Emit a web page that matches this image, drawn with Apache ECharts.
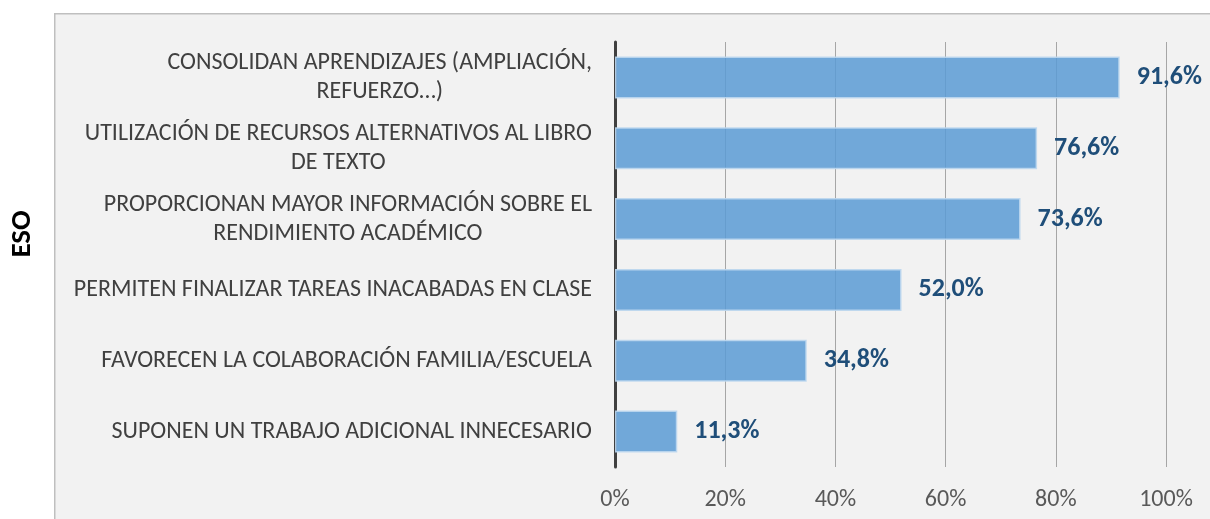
<!DOCTYPE html>
<html>
<head>
<meta charset="utf-8">
<script src="https://cdn.jsdelivr.net/npm/echarts@6/dist/echarts.min.js"></script>
<style>
  html, body { margin: 0; padding: 0; background: #fff; }
  #chart { width: 1210px; height: 519px; }
</style>
</head>
<body>
<div id="chart"></div>
<script>
// categorias (de arriba abajo)
const categories = [
  'CONSOLIDAN APRENDIZAJES (AMPLIACIÓN,\nREFUERZO…)',
  'UTILIZACIÓN DE RECURSOS ALTERNATIVOS AL LIBRO\nDE TEXTO',
  'PROPORCIONAN MAYOR INFORMACIÓN SOBRE EL\nRENDIMIENTO ACADÉMICO',
  'PERMITEN FINALIZAR TAREAS INACABADAS EN CLASE',
  'FAVORECEN LA COLABORACIÓN FAMILIA/ESCUELA',
  'SUPONEN UN TRABAJO ADICIONAL INNECESARIO'
]
const values = [91.6, 76.6, 73.6, 52.0, 34.8, 11.3]
const axisTitle = 'ESO'

const FONT = 'Carlito, "Liberation Sans Narrow", "Open Sans", sans-serif'

const chart = echarts.init(document.getElementById('chart'))
const option = {
  animation: false,
  backgroundColor: '#ffffff',
  graphic: [
    { // panel gris de fondo
      type: 'rect',
      left: 54,
      top: 13,
      z: -10,
      shape: { width: 1170, height: 520 },
      style: { fill: '#f2f2f2', stroke: '#bfbfbf', lineWidth: 1.5 }
    },
    { // titulo del eje vertical
      type: 'text',
      x: 23,
      y: 234,
      rotation: Math.PI / 2,
      style: {
        text: axisTitle,
        fill: '#000',
        font: 'bold 29px ' + FONT,
        align: 'center',
        verticalAlign: 'middle'
      }
    }
  ],
  grid: { left: 615, right: 44, top: 42, bottom: 52 },
  xAxis: {
    type: 'value',
    min: 0,
    max: 100,
    interval: 20,
    axisLine: { show: false },
    axisTick: { show: false },
    axisLabel: {
      formatter: '{value}%',
      color: '#595959',
      fontFamily: FONT,
      fontSize: 24,
      margin: 21
    },
    splitLine: { lineStyle: { color: '#a6a6a6', width: 1 } }
  },
  yAxis: {
    type: 'category',
    inverse: true,
    data: categories,
    axisLine: { lineStyle: { color: '#404040', width: 3 } },
    axisTick: { show: false },
    axisLabel: {
      color: '#404040',
      fontFamily: FONT,
      fontSize: 24,
      lineHeight: 29,
      align: 'right',
      margin: 23,
      // lineas centradas entre si
      formatter: v => v.split('\n').map(s => '{c|' + s + '}').join('\n'),
      rich: {
        c: { align: 'center', color: '#404040', fontFamily: FONT, fontSize: 24, lineHeight: 29 }
      }
    }
  },
  series: [
    {
      type: 'bar',
      data: values,
      barWidth: 42,
      itemStyle: {
        color: 'rgba(91,155,213,0.85)',
        borderColor: 'rgba(189,215,238,0.9)',
        borderWidth: 1.5
      },
      label: {
        show: true,
        position: 'right',
        distance: 17,
        color: '#1f4e79',
        fontFamily: FONT,
        fontWeight: 'bold',
        fontSize: 26,
        formatter: p => p.value.toFixed(1).replace('.', ',') + '%'
      }
    }
  ]
}
chart.setOption(option)
</script>
</body>
</html>
